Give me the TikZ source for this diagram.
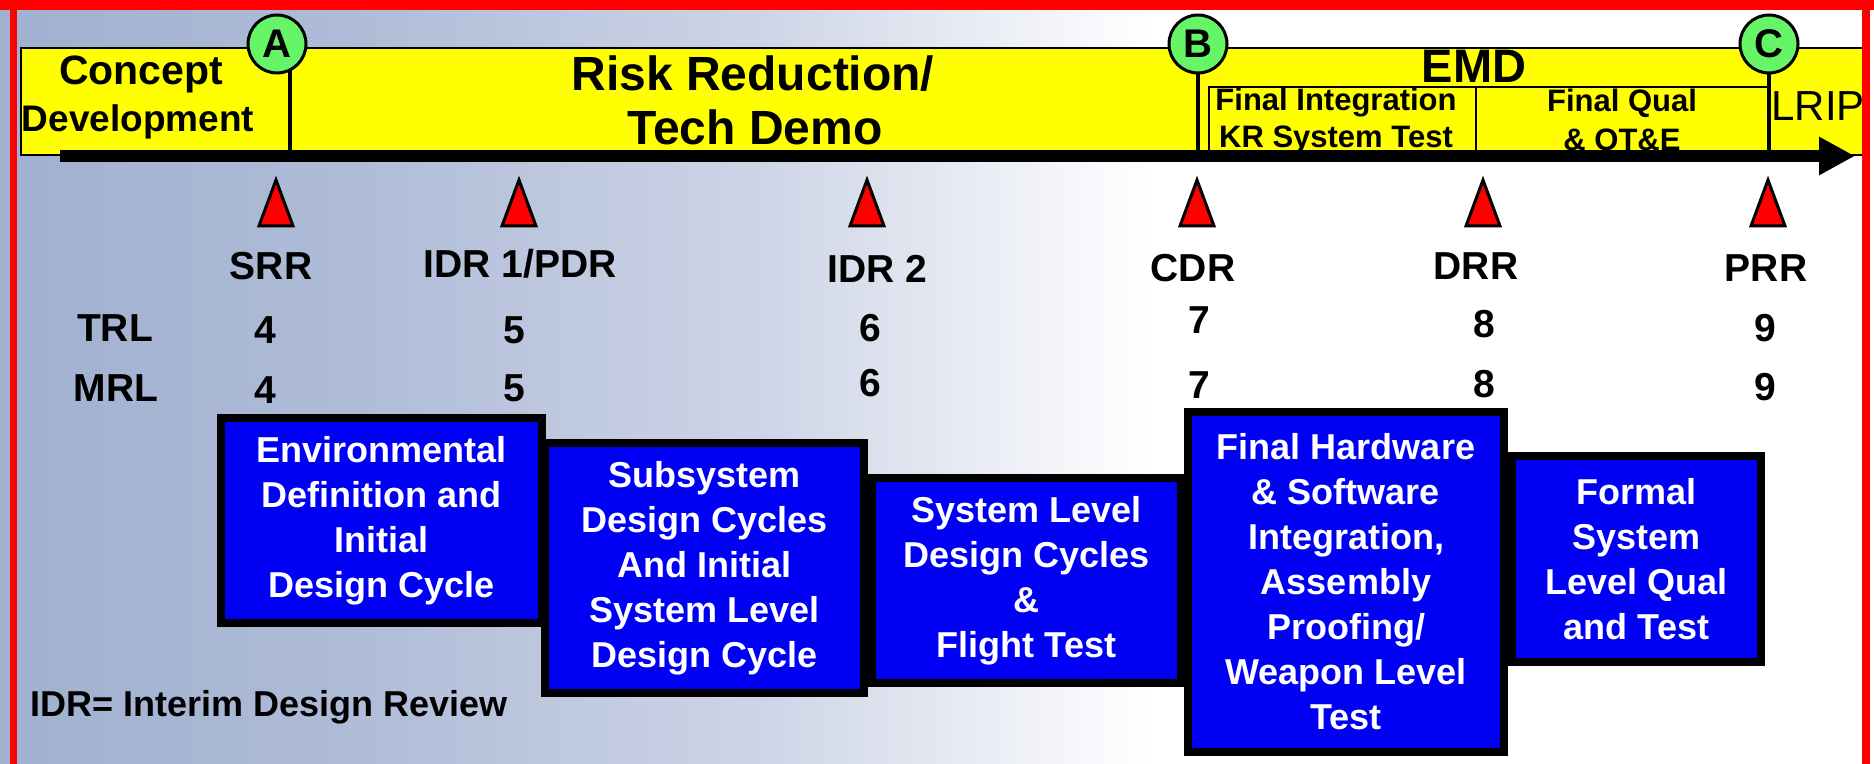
\documentclass[tikz,border=0pt]{standalone}
\usepackage{fontspec}
\setmainfont{Liberation Sans}
\usetikzlibrary{arrows.meta}
\definecolor{ybar}{RGB}{255,255,0}
\definecolor{mgreen}{RGB}{102,245,102}
\definecolor{bblue}{RGB}{0,0,245}
\definecolor{bgblue}{RGB}{160,176,208}
\definecolor{bgmid}{RGB}{205,212,230}
\pgfdeclarehorizontalshading{bgsh}{100bp}{color(0bp)=(bgblue); color(25bp)=(bgblue); color(40bp)=(bgblue!85!white); color(58bp)=(bgmid); color(75bp)=(white); color(100bp)=(white)}
\newcommand{\fsz}[2]{\fontsize{#1}{#2}\selectfont}
\begin{document}
\begin{tikzpicture}[x=0.5pt,y=-0.5pt,
  ybox/.style={fill=ybar, draw=black, line width=1pt},
  divline/.style={draw=black, line width=2pt},
  milecirc/.style={circle, draw=black, line width=1.5pt, fill=mgreen, minimum size=29pt, inner sep=0pt, font=\bfseries\fsz{20}{24}},
  trimark/.style={fill=red, draw=black, line width=1.5pt, line join=miter},
  lbl/.style={font=\bfseries\fsz{19.5}{23}, inner sep=0pt},
  bbox/.style={fill=bblue, draw=black, line width=4pt, text=white, align=center, inner sep=0pt, font=\bfseries\fsz{18}{22.5}},
  ytxt/.style={inner sep=0pt, font=\bfseries\fsz{24}{28}},
  stxt/.style={inner sep=0pt, font=\bfseries\fsz{15.5}{18}}
]
\useasboundingbox (0,0) rectangle (1874,764);
% background
\fill[white] (0,0) rectangle (1874,764);
\shade[shading=bgsh] (0,0) rectangle (1150,764);

% yellow phase band
\draw[ybox] (21,48) rectangle (290,155);
\draw[ybox] (290,48) rectangle (1198,155);
\draw[ybox] (1198,48) rectangle (1770,155);
\draw[ybox] (1209,87) rectangle (1476,155);
\draw[ybox] (1476,87) rectangle (1770,155);
\draw[ybox] (1770,48) rectangle (1866,155);

\node[inner sep=0pt, font=\bfseries\fsz{20.5}{24}] (cpt) at (141,74) {Concept};
\node[inner sep=0pt, font=\bfseries\fsz{18.5}{22}] (dev) at (138,122) {Development};
\node[ytxt] (risk) at (753,74) {Risk Reduction/};
\node[ytxt] (tech) at (755,127) {Tech Demo};
\node[ytxt, font=\bfseries\fsz{23.5}{28}] (emd) at (1474,66) {EMD};
\node[stxt] (fi) at (1336,103) {Final Integration};
\node[stxt] (kr) at (1336,140) {KR System Test};
\node[stxt] (fq) at (1622,103) {Final Qual};
\node[stxt] (ote) at (1622,140) {\& OT\&E};
\node[inner sep=0pt, anchor=west, font=\fsz{21}{24}] (lrip) at (1771,106) {LRIP};

% timeline arrow
\coordinate (arrS) at (60,156);
\coordinate (arrE) at (1855,156);
\draw[line width=6pt, -{Triangle[length=18pt, width=18pt]}] (arrS) -- (arrE);

% milestone circles with their divider lines
\coordinate (cA) at (277,44);
\coordinate (cB) at (1198,44);
\coordinate (cC) at (1769,44);
\coordinate (tA) at (290,66);
\coordinate (dA) at (290,156);
\coordinate (dB) at (1198,156);
\coordinate (dC) at (1769,156);
\draw[divline] (tA) -- (dA);
\draw[divline] (cB) -- (dB);
\draw[divline] (cC) -- (dC);
\node[milecirc] (A) at (cA) {A};
\node[milecirc] (B) at (cB) {B};
\node[milecirc] (C) at (cC) {C};

% review triangles
\foreach \x in {276,519,867,1197,1483,1768}{
  \filldraw[trimark] (\x,180) -- ++(17,46) -- ++(-34,0) -- cycle;
}

% review labels
\node[lbl] (srr) at (271,266) {SRR};
\node[lbl] (idr1) at (520,264) {IDR 1/PDR};
\node[lbl] (idr2) at (877,269) {IDR 2};
\node[lbl] (cdr) at (1193,268) {CDR};
\node[lbl] (drr) at (1476,266) {DRR};
\node[lbl] (prr) at (1766,268) {PRR};

\node[lbl] (trl) at (115,328) {TRL};
\node[lbl] (mrl) at (116,388) {MRL};
\node[lbl] (t4) at (265,330) {4};
\node[lbl] (t5) at (514,330) {5};
\node[lbl] (t6) at (870,328) {6};
\node[lbl] (t7) at (1199,320) {7};
\node[lbl] (t8) at (1484,324) {8};
\node[lbl] (t9) at (1765,328) {9};
\node[lbl] (m4) at (265,390) {4};
\node[lbl] (m5) at (514,388) {5};
\node[lbl] (m6) at (870,383) {6};
\node[lbl] (m7) at (1199,385) {7};
\node[lbl] (m8) at (1484,384) {8};
\node[lbl] (m9) at (1765,387) {9};

% activity boxes
\node[bbox, minimum width=160.5pt, minimum height=102.5pt] (b1) at (381.5,520.5)
  {Environmental\\Definition and\\Initial\\Design Cycle};
\node[bbox, minimum width=159.5pt, minimum height=125pt] (b2) at (704.5,568)
  {Subsystem\\Design Cycles\\And Initial\\System Level\\Design Cycle};
\node[bbox, minimum width=154.5pt, minimum height=102.5pt] (b3) at (1026.5,580.5)
  {System Level\\Design Cycles\\\&\\Flight Test};
\node[bbox, minimum width=158pt, minimum height=170pt] (b4) at (1346,582)
  {Final Hardware\\\& Software\\Integration,\\Assembly\\Proofing/\\Weapon Level\\Test};
\node[bbox, minimum width=124.5pt, minimum height=103pt] (b5) at (1636.5,559)
  {Formal\\System\\Level Qual\\and Test};

\node[anchor=west, inner sep=0pt, font=\bfseries\fsz{18}{22}] (note) at (30,707) {IDR= Interim Design Review};

% red frame
\fill[white] (1870,10) rectangle (1874,764);
\fill[red] (0,0) rectangle (1874,10);
\fill[red] (10,0) rectangle (17,764);
\fill[red] (1862,0) rectangle (1870,764);
\end{tikzpicture}
\end{document}
